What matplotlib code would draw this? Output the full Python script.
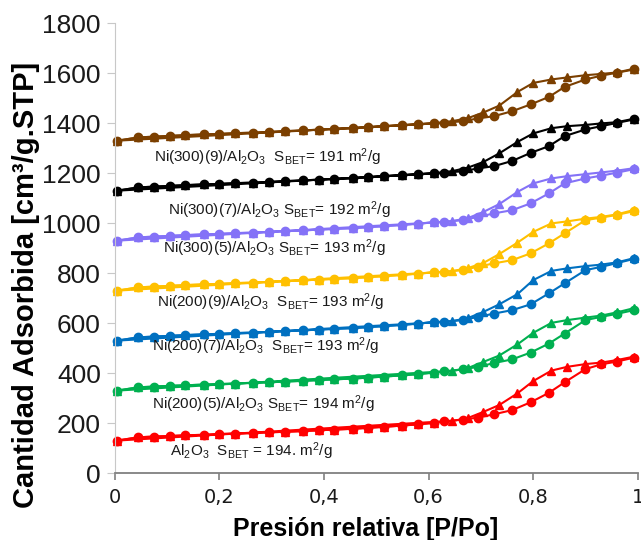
import matplotlib
matplotlib.use("Agg")
import matplotlib.pyplot as plt

plt.rcParams['font.family'] = ['Liberation Sans', 'DejaVu Sans']
plt.rcParams['mathtext.fontset'] = 'custom'
plt.rcParams['mathtext.rm'] = 'Liberation Sans'
plt.rcParams['mathtext.it'] = 'Liberation Sans'
plt.rcParams['mathtext.bf'] = 'Liberation Sans:bold'

# relative pressure, low region shared by both branches
p_low = [0.005, 0.045, 0.075, 0.105, 0.135, 0.17, 0.2, 0.23, 0.265, 0.295,
         0.325, 0.36, 0.39, 0.42, 0.455, 0.485, 0.515, 0.55, 0.58, 0.61]
p_ads = [0.645, 0.675, 0.705, 0.735, 0.77, 0.80, 0.835, 0.865, 0.90, 0.93, 0.96, 0.993]
p_des = [0.63, 0.665, 0.695, 0.725, 0.76, 0.795, 0.83, 0.86, 0.90, 0.93, 0.96, 0.993]

labels = [
    r'Al$_2$O$_3$  S$_{BET}$ = 194. m$^2$/g',
    r'Ni(200)(5)/Al$_2$O$_3$ S$_{BET}$= 194 m$^2$/g',
    r'Ni(200)(7)/Al$_2$O$_3$  S$_{BET}$= 193 m$^2$/g',
    r'Ni(200)(9)/Al$_2$O$_3$  S$_{BET}$= 193 m$^2$/g',
    r'Ni(300)(5)/Al$_2$O$_3$ S$_{BET}$= 193 m$^2$/g',
    r'Ni(300)(7)/Al$_2$O$_3$ S$_{BET}$= 192 m$^2$/g',
    r'Ni(300)(9)/Al$_2$O$_3$  S$_{BET}$= 191 m$^2$/g',
]
colors = ['#FF0000', '#00B050', '#0070C0', '#FFC000', '#8472F7', '#000000', '#7B3F00']

low_vals = [
    [130, 143, 146, 148, 151, 153, 156, 158, 160, 163, 165, 168, 171, 174, 177, 181, 185, 190, 195, 201],
    [330, 343, 346, 349, 351, 354, 356, 358, 361, 363, 366, 369, 372, 375, 378, 382, 386, 391, 396, 402],
    [530, 543, 546, 549, 552, 555, 557, 560, 562, 565, 568, 571, 574, 577, 580, 584, 588, 593, 598, 604],
    [730, 743, 746, 749, 752, 755, 757, 760, 762, 765, 768, 771, 774, 777, 780, 784, 788, 793, 798, 803],
    [930, 943, 946, 949, 952, 955, 957, 960, 962, 965, 968, 971, 974, 977, 980, 984, 988, 993, 998, 1003],
    [1130, 1143, 1146, 1149, 1152, 1155, 1157, 1160, 1162, 1165, 1168, 1171, 1174, 1177, 1180, 1184, 1188, 1192, 1196, 1200],
    [1330, 1343, 1346, 1349, 1352, 1355, 1357, 1360, 1362, 1365, 1368, 1371, 1374, 1377, 1380, 1384, 1388, 1392, 1396, 1400],
]
ads_vals = [
    [208, 220, 245, 272, 319, 368, 410, 425, 436, 442, 452, 466],
    [408, 420, 445, 470, 515, 561, 601, 612, 622, 630, 643, 660],
    [608, 620, 645, 675, 716, 772, 809, 819, 828, 834, 843, 860],
    [808, 820, 841, 876, 922, 965, 999, 1007, 1018, 1025, 1035, 1053],
    [1008, 1020, 1045, 1076, 1125, 1159, 1179, 1188, 1196, 1203, 1210, 1220],
    [1208, 1222, 1245, 1279, 1325, 1359, 1380, 1388, 1393, 1399, 1404, 1418],
    [1408, 1420, 1443, 1470, 1525, 1561, 1575, 1583, 1592, 1597, 1603, 1618],
]
des_vals = [
    [207, 214, 222, 235, 252, 283, 321, 363, 416, 435, 446, 462],
    [407, 415, 425, 440, 455, 482, 518, 558, 612, 625, 637, 652],
    [605, 612, 625, 638, 652, 675, 719, 759, 812, 825, 840, 857],
    [805, 812, 826, 839, 852, 879, 919, 959, 1012, 1022, 1033, 1048],
    [1005, 1012, 1025, 1039, 1052, 1079, 1119, 1159, 1179, 1190, 1202, 1216],
    [1201, 1208, 1219, 1228, 1249, 1281, 1308, 1348, 1375, 1388, 1401, 1415],
    [1401, 1408, 1419, 1428, 1448, 1475, 1505, 1545, 1575, 1590, 1602, 1615],
]
label_pos = [(0.105, 88), (0.072, 276), (0.072, 508), (0.081, 684), (0.093, 900), (0.101, 1052), (0.076, 1262)]

fig = plt.figure(figsize=(6.41, 5.40), dpi=100)
ax = fig.add_axes([0.179, 0.124, 0.816, 0.833])

for i in range(len(labels)):
    c = colors[i]
    ax.plot(p_low + p_ads, low_vals[i] + ads_vals[i], color=c, marker='^',
            markersize=6, linewidth=1.5, clip_on=False)
    ax.plot(p_des[::-1] + p_low, des_vals[i][::-1] + low_vals[i], color=c,
            marker='o', markersize=6, linewidth=1.5, clip_on=False)
    ax.text(label_pos[i][0], label_pos[i][1], labels[i], fontsize=11,
            color='#1a1a1a', va='center', ha='left')

ax.set_xlim(0, 1)
ax.set_ylim(0, 1800)
ax.set_yticks(range(0, 1801, 200))
ax.set_xticks([0, 0.2, 0.4, 0.6, 0.8, 1])
ax.set_xticklabels(['0', '0,2', '0,4', '0,6', '0,8', '1'], fontfamily='DejaVu Sans', fontsize=14)
for t in ax.get_yticklabels():
    t.set_fontsize(19)
    t.set_color('#1a1a1a')

ax.spines['top'].set_visible(False)
ax.spines['right'].set_visible(False)
ax.spines['left'].set_color('#C8C8C8')
ax.spines['bottom'].set_color('#808080')
ax.spines['bottom'].set_linewidth(1.3)
ax.tick_params(axis='y', colors='#C8C8C8', labelcolor='#1a1a1a', length=6, pad=4)
ax.tick_params(axis='x', colors='#808080', labelcolor='#1a1a1a', length=5, width=1.2, pad=6)

ax.set_xlabel('Presión relativa [P/Po]', fontsize=18, fontweight='bold')
ax.xaxis.set_label_coords(0.48, -0.098)
ax.set_ylabel('Cantidad Adsorbida [cm³/g.STP]', fontsize=21, fontweight='bold')
ax.yaxis.set_label_coords(-0.142, 0.418)

plt.savefig('out.png', dpi=100)
